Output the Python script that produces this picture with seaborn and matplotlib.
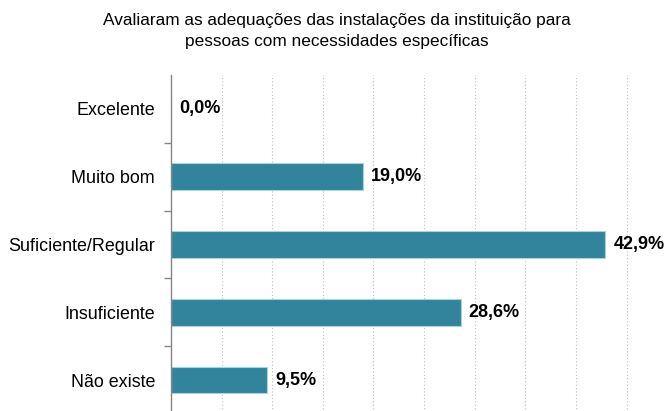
import matplotlib
matplotlib.use("Agg")
import matplotlib.pyplot as plt
import seaborn as sns
import pandas as pd
from matplotlib.ticker import MultipleLocator, FixedLocator, NullFormatter

categorias = ["Excelente", "Muito bom", "Suficiente/Regular", "Insuficiente", "Não existe"]
percentuais = [0.0, 19.0, 42.9, 28.6, 9.5]
titulo = "Avaliaram as adequações das instalações da instituição para\npessoas com necessidades específicas"

df = pd.DataFrame({"categoria": categorias, "percentual": percentuais})

sns.set_style("white")
plt.rcParams["font.family"] = ["Liberation Sans", "DejaVu Sans"]

fig = plt.figure(figsize=(6.67, 4.11), dpi=100)
W, H = 667, 411
left, top = 171, 75
ax = fig.add_axes([left / W, (H - 414) / H, (W - left) / W, (414 - top) / H])

cor = "#31849B"
sns.barplot(data=df, x="percentual", y="categoria", orient="h", color=cor,
            width=0.39, edgecolor="#A8D3DF", linewidth=0.8, saturation=1, ax=ax)

ax.set_xlim(0, 49.0)
ax.set_ylim(4.5, -0.5)
ax.xaxis.set_major_locator(MultipleLocator(5))
ax.xaxis.set_major_formatter(NullFormatter())
ax.tick_params(axis="x", length=0)
ax.grid(axis="x", color="#BFBFBF", linestyle=(0, (1, 2)), linewidth=0.8)
ax.set_axisbelow(True)

for s in ["top", "right", "bottom"]:
    ax.spines[s].set_visible(False)
ax.spines["left"].set_color("#868686")
ax.spines["left"].set_linewidth(1.0)

ax.tick_params(axis="y", which="major", left=False, length=0, labelsize=12.9, pad=11.5,
               labelcolor="#000000")
ax.yaxis.set_minor_locator(FixedLocator([0.5, 1.5, 2.5, 3.5]))
ax.tick_params(axis="y", which="minor", left=True, direction="out", length=5,
               color="#868686", width=1.0)
ax.set_xlabel("")
ax.set_ylabel("")

for i, v in enumerate(percentuais):
    ax.annotate(f"{v:.1f}%".replace(".", ","), xy=(v, i), xytext=(8, 0),
                textcoords="offset pixels",
                va="center", ha="left", fontsize=13, fontweight="bold", color="#000000")

fig.text(337 / W, 1 - 31 / H, titulo, ha="center", va="center",
         fontsize=12.4, color="#000000", linespacing=1.45)

fig.savefig("out.png", dpi=100, facecolor="white")
